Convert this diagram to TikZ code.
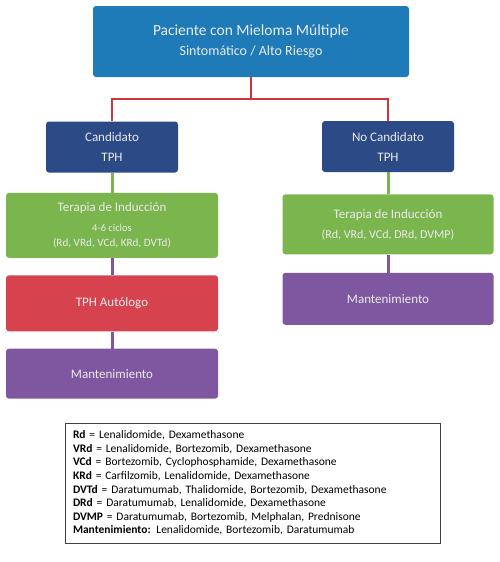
\documentclass[tikz,border=0pt]{standalone}
\usepackage{fontspec}
\setmainfont{Carlito}
\usepackage{xcolor}
\usetikzlibrary{positioning}

\definecolor{topblue}{HTML}{1E7BB8}
\definecolor{navy}{HTML}{2B4A86}
\definecolor{leafgreen}{HTML}{7BB54E}
\definecolor{tphred}{HTML}{D6434F}
\definecolor{mantpurple}{HTML}{7E57A0}
\definecolor{linkred}{HTML}{D0343F}

\begin{document}
\begin{tikzpicture}[
    x=1pt, y=1pt,
    font=\fontsize{13}{20}\selectfont,
    box/.style={
        rounded corners=3pt, text=white!92!black, align=center, inner sep=2pt,
        minimum width=212pt,
    },
    head/.style={box, fill=topblue, minimum width=316pt, minimum height=71pt},
    cand/.style={box, fill=navy, minimum width=132pt, minimum height=51pt},
    induc/.style={box, fill=leafgreen},
    tph/.style={box, fill=tphred, minimum height=56pt},
    mant/.style={box, fill=mantpurple},
    split/.style={draw=linkred, line width=2pt},
    stub/.style={line width=3pt},
    legend/.style={draw=black!75, line width=0.8pt, align=left, text=black,
        text width=359pt, minimum height=120pt, inner xsep=8pt,
        font=\fontsize{11.5}{13.6}\selectfont},
]
\useasboundingbox (0,0) rectangle (500,-562);

\node[head] (pac) at (251,-41.5)
    {{\fontsize{15.5}{21}\selectfont Paciente con Mieloma Múltiple}\\{\fontsize{14}{21}\selectfont Sintomático / Alto Riesgo}};

\node[cand] (cand) at (112,-147) {Candidato\\TPH};
\node[cand] (nocand) at (388,-146.5) {No Candidato\\TPH};

% left branch
\node[induc, minimum height=65pt, below=20pt of cand] (ind1)
    {Terapia de Inducción\\{\fontsize{10.5}{15}\selectfont 4-6 ciclos}\\[-5pt]{\fontsize{11.2}{15}\selectfont (Rd, VRd, VCd, KRd, DVTd)}};
\node[tph, below=17pt of ind1] (auto) {TPH Autólogo};
\node[mant, minimum height=50pt, below=17pt of auto] (mant1) {Mantenimiento};

% right branch
\node[induc, minimum width=211pt, minimum height=60pt, below=22pt of nocand] (ind2)
    {Terapia de Inducción\\{\fontsize{12}{20}\selectfont (Rd, VRd, VCd, DRd, DVMP)}};
\node[mant, minimum width=211pt, minimum height=52pt, below=18pt of ind2] (mant2) {Mantenimiento};

\draw[split] (pac.south) -- ++(0,-22) coordinate (fork) -| (cand.north);
\draw[split] (fork) -| (nocand.north);

\draw[stub, draw=leafgreen] (cand) -- (ind1);
\draw[stub, draw=leafgreen] (nocand) -- (ind2);
\draw[stub, draw=mantpurple] (ind1) -- (auto);
\draw[stub, draw=mantpurple] (auto) -- (mant1);
\draw[stub, draw=mantpurple] (ind2) -- (mant2);

\node[legend] (abbr) at (252.5,-483) {%
\textbf{Rd} = Lenalidomide, Dexamethasone\\
\textbf{VRd} = Lenalidomide, Bortezomib, Dexamethasone\\
\textbf{VCd} = Bortezomib, Cyclophosphamide, Dexamethasone\\
\textbf{KRd} = Carfilzomib, Lenalidomide, Dexamethasone\\
\textbf{DVTd} = Daratumumab, Thalidomide, Bortezomib, Dexamethasone\\
\textbf{DRd} = Daratumumab, Lenalidomide, Dexamethasone\\
\textbf{DVMP} = Daratumumab, Bortezomib, Melphalan, Prednisone\\
\textbf{Mantenimiento:} Lenalidomide, Bortezomib, Daratumumab};

\end{tikzpicture}
\end{document}
